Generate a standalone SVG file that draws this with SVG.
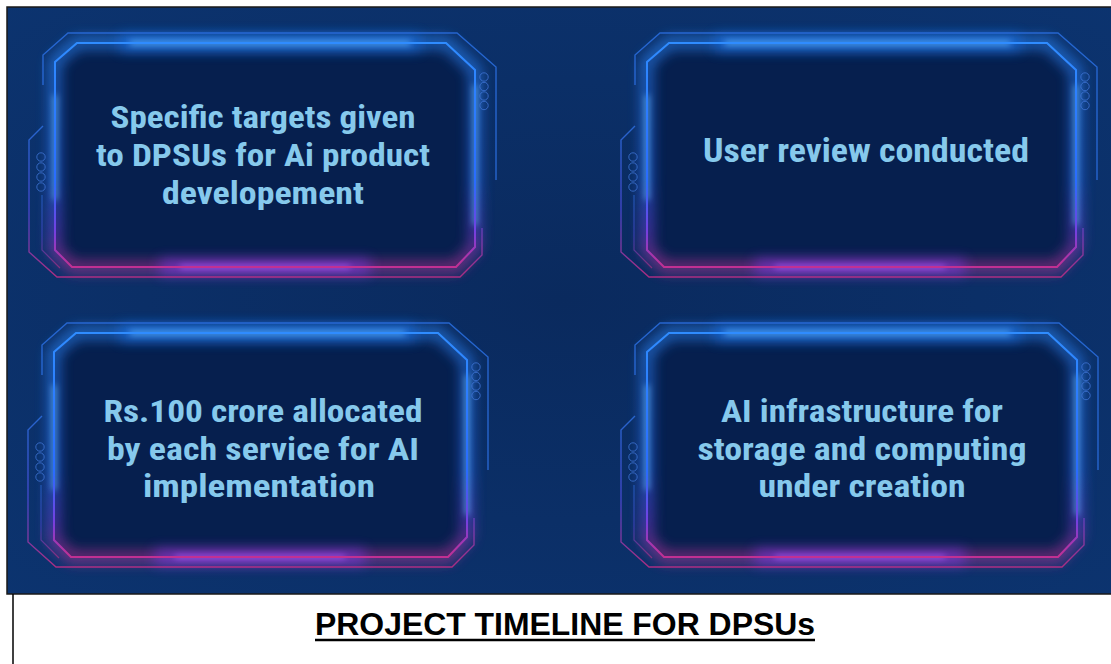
<svg xmlns="http://www.w3.org/2000/svg" width="1111" height="664" viewBox="0 0 1111 664">
<defs>
<style>
.card-fill{fill:#061f4e;}
.inner-glow{fill:none;stroke:url(#gInner);stroke-width:9;opacity:.8;}
.inner{fill:none;stroke:url(#gInner);stroke-width:2;}
.outer-top{fill:none;stroke:#2a6ee0;stroke-width:1.4;opacity:.85;}
.outer-bot{fill:none;stroke:url(#gOuter);stroke-width:1.4;opacity:.85;}
.sec{fill:none;stroke:url(#gOuter);stroke-width:1.2;opacity:.6;}
.dot{fill:none;stroke:#3f74d6;stroke-width:1;opacity:.8;}
.hl-blue{stroke:#6cc0ff;stroke-width:3;fill:none;}
.hl-blue-wide{stroke:#1f7bff;stroke-width:14;fill:none;opacity:.6;}
.hl-purple{stroke:#b45cff;stroke-width:3;fill:none;}
.hl-purple-wide{stroke:#8a3cff;stroke-width:14;fill:none;opacity:.55;}
.lbl{font-family:"Liberation Sans Narrow","Roboto Condensed","Liberation Sans",Arial,sans-serif;font-weight:bold;fill:#86c9ec;text-anchor:middle;}
.title{font-family:"Liberation Sans",Arial,sans-serif;font-weight:bold;font-size:31px;fill:#000;text-anchor:middle;}
</style>
<linearGradient id="gInner" x1="0" y1="0" x2="0" y2="1">
<stop offset="0" stop-color="#2f8cff"/>
<stop offset="0.62" stop-color="#2a6cff"/>
<stop offset="0.84" stop-color="#7440e0"/>
<stop offset="1" stop-color="#c23092"/>
</linearGradient>
<linearGradient id="gOuter" x1="0" y1="0" x2="0" y2="1">
<stop offset="0" stop-color="#2c6fe0"/>
<stop offset="0.55" stop-color="#4a4ad8"/>
<stop offset="1" stop-color="#c42d86"/>
</linearGradient>
<radialGradient id="gBg" cx="0.5" cy="0.5" r="0.75">
<stop offset="0" stop-color="#0a2a5e"/>
<stop offset="1" stop-color="#0c3470"/>
</radialGradient>
<filter id="blur3" filterUnits="userSpaceOnUse" x="0" y="0" width="1111" height="664"><feGaussianBlur stdDeviation="3"/></filter>
<filter id="blur7" filterUnits="userSpaceOnUse" x="0" y="0" width="1111" height="664"><feGaussianBlur stdDeviation="7"/></filter>
</defs>

<rect x="0" y="0" width="1111" height="664" fill="#ffffff"/>
<rect x="7" y="7" width="1110" height="587" fill="url(#gBg)" stroke="#1a1a1a" stroke-width="1.5"/>

<g id="card-targets">
<path class="card-fill" d="M77,43 H446 L475,70 V247 L456,267 H72 L55,250 V62 Z"/>
<path class="inner-glow" filter="url(#blur7)" d="M77,43 H446 L475,70 V247 L456,267 H72 L55,250 V62 Z"/>
<line class="hl-blue-wide" filter="url(#blur7)" x1="120" y1="43" x2="420" y2="43"/>
<line class="hl-blue" filter="url(#blur3)" x1="130" y1="43" x2="410" y2="43"/>
<line class="hl-blue" filter="url(#blur3)" x1="55" y1="95" x2="55" y2="200"/>
<line class="hl-blue" filter="url(#blur3)" x1="475" y1="85" x2="475" y2="225"/>
<line class="hl-purple-wide" filter="url(#blur7)" x1="160" y1="267" x2="370" y2="267"/>
<line class="hl-purple" filter="url(#blur3)" x1="180" y1="267" x2="350" y2="267"/>
<path class="inner" d="M77,43 H446 L475,70 V247 L456,267 H72 L55,250 V62 Z"/>
<path class="outer-top" d="M43,85 V55 L68,33 H457 L496,67 V180"/>
<path class="outer-bot" d="M482,228 V255 L460,277 H57 L29,252 V140 L43,126"/>
<path class="sec" d="M42,195 V250 L60,268"/>
<circle class="dot" cx="484" cy="77" r="4.2"/><circle class="dot" cx="484" cy="86.5" r="4.2"/><circle class="dot" cx="484" cy="96" r="4.2"/><circle class="dot" cx="484" cy="105.5" r="4.2"/>
<circle class="dot" cx="41" cy="157" r="4.2"/><circle class="dot" cx="41" cy="167" r="4.2"/><circle class="dot" cx="41" cy="177" r="4.2"/><circle class="dot" cx="41" cy="187" r="4.2"/>
<text class="lbl" font-size="31" x="263" y="128" textLength="305" lengthAdjust="spacingAndGlyphs">Specific targets given</text>
<text class="lbl" font-size="31" x="263" y="166" textLength="334" lengthAdjust="spacingAndGlyphs">to DPSUs for Ai product</text>
<text class="lbl" font-size="31" x="263" y="204" textLength="202" lengthAdjust="spacingAndGlyphs">developement</text>
</g>

<g id="card-review">
<path class="card-fill" d="M669,43 H1047 L1076,70 V247 L1057,267 H664 L647,250 V62 Z"/>
<path class="inner-glow" filter="url(#blur7)" d="M669,43 H1047 L1076,70 V247 L1057,267 H664 L647,250 V62 Z"/>
<line class="hl-blue-wide" filter="url(#blur7)" x1="715" y1="43" x2="1020" y2="43"/>
<line class="hl-blue" filter="url(#blur3)" x1="725" y1="43" x2="1010" y2="43"/>
<line class="hl-blue" filter="url(#blur3)" x1="647" y1="95" x2="647" y2="200"/>
<line class="hl-blue" filter="url(#blur3)" x1="1076" y1="85" x2="1076" y2="225"/>
<line class="hl-purple-wide" filter="url(#blur7)" x1="755" y1="267" x2="965" y2="267"/>
<line class="hl-purple" filter="url(#blur3)" x1="775" y1="267" x2="945" y2="267"/>
<path class="inner" d="M669,43 H1047 L1076,70 V247 L1057,267 H664 L647,250 V62 Z"/>
<path class="outer-top" d="M635,85 V55 L660,33 H1058 L1097,67 V180"/>
<path class="outer-bot" d="M1083,228 V255 L1061,277 H649 L621,252 V140 L635,126"/>
<path class="sec" d="M634,195 V250 L652,268"/>
<circle class="dot" cx="1085" cy="77" r="4.2"/><circle class="dot" cx="1085" cy="86.5" r="4.2"/><circle class="dot" cx="1085" cy="96" r="4.2"/><circle class="dot" cx="1085" cy="105.5" r="4.2"/>
<circle class="dot" cx="633" cy="157" r="4.2"/><circle class="dot" cx="633" cy="167" r="4.2"/><circle class="dot" cx="633" cy="177" r="4.2"/><circle class="dot" cx="633" cy="187" r="4.2"/>
<text class="lbl" font-size="33" x="866" y="162" textLength="326" lengthAdjust="spacingAndGlyphs">User review conducted</text>
</g>

<g id="card-budget">
<path class="card-fill" d="M76,333 H438 L467,360 V537 L448,557 H71 L54,540 V352 Z"/>
<path class="inner-glow" filter="url(#blur7)" d="M76,333 H438 L467,360 V537 L448,557 H71 L54,540 V352 Z"/>
<line class="hl-blue-wide" filter="url(#blur7)" x1="120" y1="333" x2="415" y2="333"/>
<line class="hl-blue" filter="url(#blur3)" x1="130" y1="333" x2="405" y2="333"/>
<line class="hl-blue" filter="url(#blur3)" x1="54" y1="385" x2="54" y2="490"/>
<line class="hl-blue" filter="url(#blur3)" x1="467" y1="375" x2="467" y2="515"/>
<line class="hl-purple-wide" filter="url(#blur7)" x1="155" y1="557" x2="365" y2="557"/>
<line class="hl-purple" filter="url(#blur3)" x1="175" y1="557" x2="345" y2="557"/>
<path class="inner" d="M76,333 H438 L467,360 V537 L448,557 H71 L54,540 V352 Z"/>
<path class="outer-top" d="M42,375 V345 L67,323 H449 L488,357 V470"/>
<path class="outer-bot" d="M474,518 V545 L452,567 H56 L28,542 V430 L42,416"/>
<path class="sec" d="M41,485 V540 L59,558"/>
<circle class="dot" cx="476" cy="367" r="4.2"/><circle class="dot" cx="476" cy="376.5" r="4.2"/><circle class="dot" cx="476" cy="386" r="4.2"/><circle class="dot" cx="476" cy="395.5" r="4.2"/>
<circle class="dot" cx="40" cy="447" r="4.2"/><circle class="dot" cx="40" cy="457" r="4.2"/><circle class="dot" cx="40" cy="467" r="4.2"/><circle class="dot" cx="40" cy="477" r="4.2"/>
<text class="lbl" font-size="31" x="263" y="422" textLength="319" lengthAdjust="spacingAndGlyphs">Rs.100 crore allocated</text>
<text class="lbl" font-size="31" x="263" y="460" textLength="312" lengthAdjust="spacingAndGlyphs">by each service for AI</text>
<text class="lbl" font-size="31" x="259" y="497" textLength="232" lengthAdjust="spacingAndGlyphs">implementation</text>
</g>

<g id="card-infra">
<path class="card-fill" d="M669,333 H1048 L1077,360 V537 L1058,557 H664 L647,540 V352 Z"/>
<path class="inner-glow" filter="url(#blur7)" d="M669,333 H1048 L1077,360 V537 L1058,557 H664 L647,540 V352 Z"/>
<line class="hl-blue-wide" filter="url(#blur7)" x1="715" y1="333" x2="1020" y2="333"/>
<line class="hl-blue" filter="url(#blur3)" x1="725" y1="333" x2="1010" y2="333"/>
<line class="hl-blue" filter="url(#blur3)" x1="647" y1="385" x2="647" y2="490"/>
<line class="hl-blue" filter="url(#blur3)" x1="1077" y1="375" x2="1077" y2="515"/>
<line class="hl-purple-wide" filter="url(#blur7)" x1="755" y1="557" x2="965" y2="557"/>
<line class="hl-purple" filter="url(#blur3)" x1="775" y1="557" x2="945" y2="557"/>
<path class="inner" d="M669,333 H1048 L1077,360 V537 L1058,557 H664 L647,540 V352 Z"/>
<path class="outer-top" d="M635,375 V345 L660,323 H1059 L1098,357 V470"/>
<path class="outer-bot" d="M1084,518 V545 L1062,567 H649 L621,542 V430 L635,416"/>
<path class="sec" d="M634,485 V540 L652,558"/>
<circle class="dot" cx="1086" cy="367" r="4.2"/><circle class="dot" cx="1086" cy="376.5" r="4.2"/><circle class="dot" cx="1086" cy="386" r="4.2"/><circle class="dot" cx="1086" cy="395.5" r="4.2"/>
<circle class="dot" cx="633" cy="447" r="4.2"/><circle class="dot" cx="633" cy="457" r="4.2"/><circle class="dot" cx="633" cy="467" r="4.2"/><circle class="dot" cx="633" cy="477" r="4.2"/>
<text class="lbl" font-size="31" x="862" y="422" textLength="282" lengthAdjust="spacingAndGlyphs">AI infrastructure for</text>
<text class="lbl" font-size="31" x="862" y="460" textLength="329" lengthAdjust="spacingAndGlyphs">storage and computing</text>
<text class="lbl" font-size="31" x="862" y="497" textLength="207" lengthAdjust="spacingAndGlyphs">under creation</text>
</g>

<g id="connectors"></g>

<line x1="13" y1="594" x2="13" y2="664" stroke="#000" stroke-width="1.5"/>
<g id="title">
<text class="title" x="565" y="635" textLength="500" lengthAdjust="spacingAndGlyphs">PROJECT TIMELINE FOR DPSUs</text>
<line x1="315" y1="640" x2="815" y2="640" stroke="#000" stroke-width="2.5"/>
</g>
</svg>
